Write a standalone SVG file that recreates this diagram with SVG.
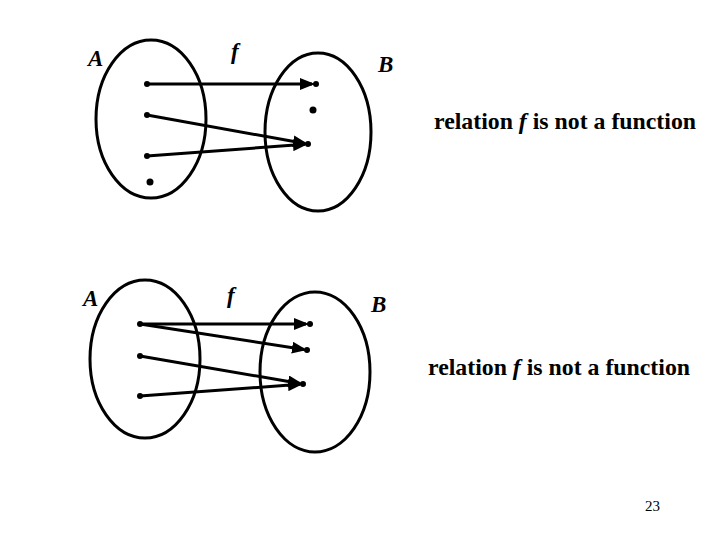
<svg xmlns="http://www.w3.org/2000/svg" width="720" height="540" viewBox="0 0 720 540">
<defs>
<style>
.set{fill:none;stroke:#000;stroke-width:3}
.arr{stroke:#000;stroke-width:3;fill:none;marker-end:url(#ah)}
.dot{fill:#000}
.lbl{font-family:"Liberation Serif","Times New Roman",serif;font-style:italic;font-weight:bold;font-size:23px;fill:#000}
.cap{font-family:"Liberation Serif","Times New Roman",serif;font-weight:bold;font-size:23.8px;fill:#000}
.pg{font-family:"Liberation Serif",serif;font-size:15px;fill:#000}
</style>
<marker id="ah" markerWidth="5" markerHeight="4" refX="4" refY="2" orient="auto" markerUnits="strokeWidth">
<path d="M0,0 L5,2 L0,4 Z" fill="#000"/>
</marker>
</defs>
<rect width="720" height="540" fill="#fff"/>
<g id="top">
<g id="setA1"><ellipse class="set" cx="151" cy="119" rx="55" ry="79"/>
<circle class="dot" cx="147" cy="84" r="3"/><circle class="dot" cx="147" cy="115" r="3"/><circle class="dot" cx="147" cy="156" r="3"/><circle class="dot" cx="150" cy="182" r="3.5"/>
<text class="lbl" x="88" y="66">A</text></g>
<g id="setB1"><ellipse class="set" cx="318" cy="132" rx="53" ry="79"/>
<circle class="dot" cx="316" cy="84" r="3"/><circle class="dot" cx="313" cy="110" r="3.5"/><circle class="dot" cx="308" cy="144" r="3"/>
<text class="lbl" x="378" y="72">B</text></g>
<text class="lbl" x="231" y="59">f</text>
<text class="cap" x="434" y="129">relation <tspan font-style="italic">f</tspan> is not a function</text>
</g>
<g id="connectors1">
<line class="arr" x1="147" y1="84" x2="312" y2="84"/>
<line class="arr" x1="147" y1="115" x2="305" y2="143.5"/>
<line class="arr" x1="147" y1="156" x2="305" y2="144.3"/>
</g>
<g id="bottom">
<g id="setA2"><ellipse class="set" cx="145" cy="359" rx="55" ry="79"/>
<circle class="dot" cx="140" cy="324" r="3"/><circle class="dot" cx="140" cy="356" r="3"/><circle class="dot" cx="140" cy="396" r="3"/>
<text class="lbl" x="83" y="306">A</text></g>
<g id="setB2"><ellipse class="set" cx="315" cy="372" rx="55" ry="80"/>
<circle class="dot" cx="310" cy="324" r="3"/><circle class="dot" cx="307" cy="350" r="3"/><circle class="dot" cx="303" cy="384" r="3"/>
<text class="lbl" x="371" y="312">B</text></g>
<text class="lbl" x="227" y="303">f</text>
<text class="cap" x="428" y="375">relation <tspan font-style="italic">f</tspan> is not a function</text>
</g>
<g id="connectors2">
<line class="arr" x1="140" y1="324" x2="306" y2="324"/>
<line class="arr" x1="140" y1="324" x2="304" y2="349.5"/>
<line class="arr" x1="140" y1="356" x2="300" y2="383.5"/>
<line class="arr" x1="140" y1="396" x2="300" y2="384.3"/>
</g>
<text class="pg" x="645" y="511">23</text>
</svg>
